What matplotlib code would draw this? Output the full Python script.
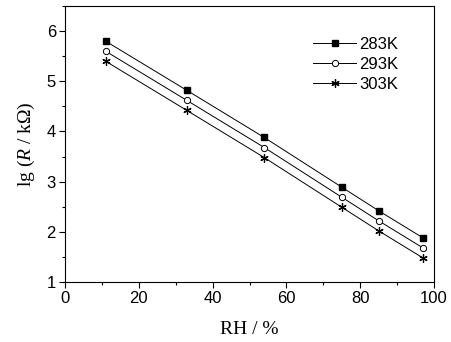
import matplotlib
matplotlib.use("Agg")
import matplotlib.pyplot as plt
from matplotlib.ticker import MultipleLocator

plt.rcParams['mathtext.fontset'] = 'custom'
plt.rcParams['mathtext.rm'] = 'Liberation Serif'
plt.rcParams['mathtext.it'] = 'Liberation Serif:italic'

rh = [11, 33, 54, 75, 85, 97]
lg_283 = [5.80, 4.82, 3.88, 2.89, 2.42, 1.88]
lg_293 = [5.60, 4.62, 3.68, 2.69, 2.22, 1.68]
lg_303 = [5.40, 4.42, 3.48, 2.49, 2.02, 1.48]
labels = ["283K", "293K", "303K"]

fig = plt.figure(figsize=(4.51, 3.42), dpi=100)
ax = fig.add_axes([65/451, 1 - 282/342, (434-65)/451, (282-6)/342])

ax.plot(rh, lg_283, '-', color='black', lw=0.7, marker='s', ms=4, mfc='black', mec='black', label=labels[0])
ax.plot(rh, lg_293, '-', color='black', lw=0.7, marker='o', ms=4.5, mfc='white', mec='black', mew=0.7, label=labels[1])
ax.plot(rh, lg_303, '-', color='black', lw=0.7, marker=(6, 2, 0), ms=6, mec='black', mew=0.9, label=labels[2])

ax.set_xlim(0, 100)
ax.set_ylim(1, 6.5)
ax.xaxis.set_major_locator(MultipleLocator(20))
ax.xaxis.set_minor_locator(MultipleLocator(10))
ax.yaxis.set_major_locator(MultipleLocator(1))
ax.yaxis.set_minor_locator(MultipleLocator(0.5))
ax.tick_params(which='both', direction='out', top=False, right=False, width=0.8)
ax.tick_params(which='major', length=4, labelsize=12, pad=2.5)
ax.tick_params(which='minor', length=2.5)
for lab in ax.get_xticklabels() + ax.get_yticklabels():
    lab.set_fontfamily('Liberation Sans')
for s in ax.spines.values():
    s.set_linewidth(0.8)

ax.set_xlabel('RH / %', fontfamily='Liberation Serif', fontsize=14, labelpad=11)
ax.set_ylabel(r'lg ($\mathit{R}$ / k$\mathrm{\Omega}$)', fontfamily='Liberation Serif', fontsize=14, labelpad=7)

leg = ax.legend(loc='upper right', bbox_to_anchor=(0.936, 0.93), frameon=False,
                prop={'family': 'Liberation Sans', 'size': 12}, handlelength=2.6,
                handletextpad=0.2, labelspacing=0.3, borderpad=0.2)

fig.savefig('out.png', dpi=100)
